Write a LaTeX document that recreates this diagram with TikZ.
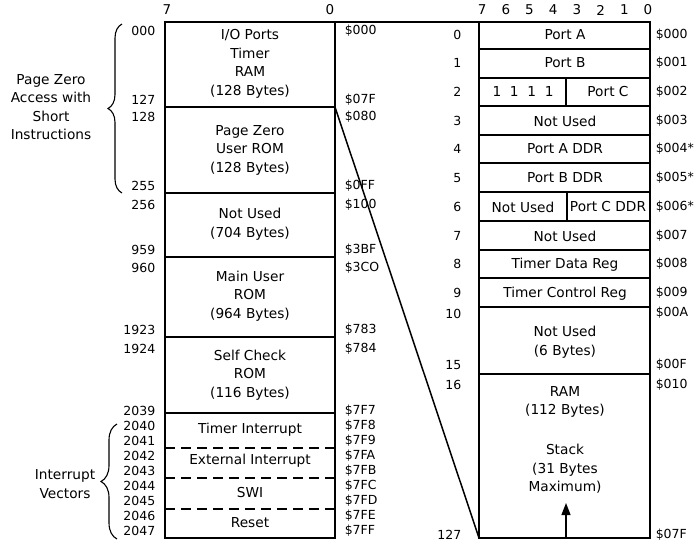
\documentclass[tikz,border=0pt]{standalone}
\usepackage{fontspec}
\setmainfont{DejaVu Sans}
\usetikzlibrary{decorations.pathreplacing,arrows.meta}

\tikzset{
  boxtxt/.style={align=center, inner sep=0pt, font=\fontsize{13.7}{18.5}\selectfont},
  numl/.style={anchor=east, inner sep=0pt, font=\fontsize{12.5}{14}\selectfont},
  numr/.style={anchor=west, inner sep=0pt, font=\fontsize{12.5}{14}\selectfont},
  bitno/.style={inner sep=0pt, font=\fontsize{13.5}{14}\selectfont},
  vecline/.style={dash pattern=on 10pt off 6pt},
  brc/.style={decorate, decoration={brace, amplitude=#1}, line width=1.1pt},
}

\begin{document}
\begin{tikzpicture}[x=1pt, y=-1pt, line width=1.5pt]
\useasboundingbox (0,0) rectangle (696,544);

% memory map
\coordinate (mtl) at (165,22);
\coordinate (mtr) at (335,22);
\coordinate (pz) at (335,107);
\draw (mtl) rectangle (335,538);
\foreach \y in {107,193,257,337,413}
  \draw (165,\y) -- (335,\y);
\foreach \y in {448,478,509}
  \draw[vecline] (165,\y) -- (335,\y);
\node[bitno] (lb7) at (167,10) {7};
\node[bitno] (lb0) at (330,10) {0};

\node[boxtxt] (io) at (250,64) {I/O Ports\\Timer\\RAM\\(128 Bytes)};
\node[boxtxt] (pzrom) at (250,150) {Page Zero\\User ROM\\(128 Bytes)};
\node[boxtxt] (nu1) at (250,224) {Not Used\\(704 Bytes)};
\node[boxtxt] (mrom) at (250,296) {Main User\\ROM\\(964 Bytes)};
\node[boxtxt] (scrom) at (250,375) {Self Check\\ROM\\(116 Bytes)};
\node[boxtxt] (tint) at (250,430) {Timer Interrupt};
\node[boxtxt] (xint) at (250,461) {External Interrupt};
\node[boxtxt] (swi) at (250,493) {SWI};
\node[boxtxt] (rst) at (250,523) {Reset};

\foreach \t/\y in {000/31,127/100,128/117,255/186,256/205,959/250,960/268,
    1923/330,1924/349,2039/411,2040/426,2041/441,2042/456,2043/471,
    2044/486,2045/501,2046/516,2047/531}
  \node[numl] (ln\t) at (156,\y) {\t};
\foreach \t/\y [count=\k] in {\$000/31,\$07F/100,\$080/117,\$0FF/186,\$100/205,
    \$3BF/250,\$3CO/268,\$783/330,\$784/349,\$7F7/411,\$7F8/426,\$7F9/441,
    \$7FA/456,\$7FB/471,\$7FC/486,\$7FD/501,\$7FE/516,\$7FF/531}
  \node[numr] (lr\k) at (344,\y) {\t};

% page zero, bit by bit
\coordinate (rtl) at (479,22);
\coordinate (rbl) at (479,538);
\draw (rtl) rectangle (650,538);
\foreach \y in {49,78,106,135,163,192,221,250,278,307,374}
  \draw (479,\y) -- (650,\y);
\draw (566,78) -- (566,106);
\draw (567,192) -- (567,221);
\foreach \b in {0,...,7}
  \node[bitno] (bit\b) at ({648-23.7*\b},10) {\b};

\node[boxtxt] (pa) at (565,35) {Port A};
\node[boxtxt] (pb) at (565,63) {Port B};
\node[boxtxt] (ones) at (523,92) {1~~1~~1~~1};
\node[boxtxt] (pc) at (608,92) {Port C};
\node[boxtxt] (nu3) at (565,121) {Not Used};
\node[boxtxt] (pad) at (565,149) {Port A DDR};
\node[boxtxt] (pbd) at (565,178) {Port B DDR};
\node[boxtxt] (nu6) at (523,207) {Not Used};
\node[boxtxt] (pcd) at (608,207) {Port C DDR};
\node[boxtxt] (nu7) at (565,236) {Not Used};
\node[boxtxt] (tdr) at (565,265) {Timer Data Reg};
\node[boxtxt] (tcr) at (565,294) {Timer Control Reg};
\node[boxtxt] (nu10) at (565,342) {Not Used\\(6 Bytes)};
\node[boxtxt] (ram) at (565,402) {RAM\\(112 Bytes)};
\node[boxtxt] (stk) at (565,469) {Stack\\(31 Bytes\\Maximum)};
\coordinate (sb) at (566,538);
\coordinate (st) at (566,503);
\draw[line width=1.3pt, -{Triangle[length=12pt,width=9pt]}] (sb) -- (st);

\foreach \t/\y in {0/35,1/63,2/92,3/121,4/149,5/178,6/207,7/236,8/264,
    9/293,10/314,15/365,16/385,127/535}
  \node[numl] (rn\t) at (462,\y) {\t};
\foreach \t/\y [count=\k] in {\$000/35,\$001/63,\$002/92,\$003/121,\$004*/149,
    \$005*/178,\$006*/207,\$007/236,\$008/264,\$009/293,\$00A/313,\$00F/365,
    \$010/385,\$07F/535}
  \node[numr] (rr\k) at (655,\y) {\t};

% expansion lines
\draw (mtr) -- (rtl);
\draw (pz) -- (rbl);

% braces
\draw[brc=14pt] (122,193) -- (122,24);
\draw[brc=16pt] (117,539) -- (117,424);
\node[boxtxt] (pzlbl) at (51,107) {Page Zero\\Access with\\Short\\Instructions};
\node[boxtxt] (ivlbl) at (65,484) {Interrupt\\Vectors};
\end{tikzpicture}
\end{document}
